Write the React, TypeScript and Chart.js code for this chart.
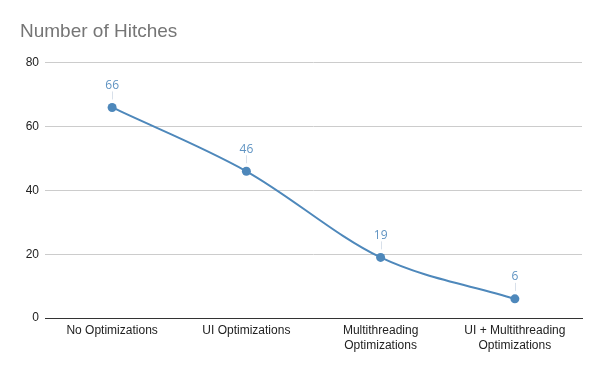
import React, { useEffect, useRef } from "react";
import { Chart, registerables } from "chart.js";

Chart.register(...registerables);

const categories: (string | string[])[] = [
  "No Optimizations",
  "UI Optimizations",
  ["Multithreading", "Optimizations"],
  ["UI + Multithreading", "Optimizations"],
];
const hitches = [66, 46, 19, 6];
const yTicks = [0, 20, 40, 60, 80];

const LINE = "#4e88bb";
const LABEL = "#5f93c2";
const FONT = "'Liberation Sans', Arial, sans-serif";

const labelPlugin = {
  id: "valueLabels",
  afterDatasetsDraw(chart: any) {
    const ctx = chart.ctx;
    const meta = chart.getDatasetMeta(0);
    ctx.save();
    ctx.font = "12px 'Open Sans'";
    ctx.textAlign = "center";
    ctx.textBaseline = "middle";
    meta.data.forEach((pt: any, i: number) => {
      const x = pt.x;
      const y = pt.y;
      ctx.strokeStyle = "#d8e0ea";
      ctx.lineWidth = 1;
      ctx.beginPath();
      ctx.moveTo(Math.round(x) + 0.5, y - 8);
      ctx.lineTo(Math.round(x) + 0.5, y - 16);
      ctx.stroke();
      ctx.fillStyle = LABEL;
      ctx.fillText(String(hitches[i]), x, y - 22);
    });
    ctx.restore();
  },
};

export default function App() {
  const ref = useRef<HTMLCanvasElement>(null);
  useEffect(() => {
    document.body.style.margin = "0";
    const chart = new Chart(ref.current!, {
      type: "line",
      data: {
        labels: categories,
        datasets: [
          {
            data: hitches,
            borderColor: LINE,
            backgroundColor: LINE,
            borderWidth: 2,
            pointRadius: 4.5,
            pointBackgroundColor: LINE,
            pointBorderWidth: 0,
            cubicInterpolationMode: "monotone",
          },
        ],
      },
      options: {
        animation: false,
        responsive: false,
        devicePixelRatio: 1,
        layout: { padding: { left: 20, right: 18, top: 0, bottom: 13 } },
        plugins: {
          legend: { display: false },
          tooltip: { enabled: false },
          title: {
            display: true,
            text: "Number of Hitches",
            align: "start",
            color: "#757575",
            font: { family: FONT, size: 19, weight: "normal", lineHeight: 1.2 },
            padding: { top: 20, bottom: 20 },
          },
        },
        scales: {
          x: {
            offset: true,
            grid: { display: false, drawTicks: false, tickLength: 0 },
            border: { color: "#333333", width: 1 },
            ticks: {
              color: "#222222",
              font: { family: FONT, size: 12, lineHeight: 1.25 },
              maxRotation: 0,
              autoSkip: false,
              padding: 5,
            },
          },
          y: {
            min: 0,
            max: 80,
            afterBuildTicks: (axis: any) => {
              axis.ticks = yTicks.map((v) => ({ value: v }));
            },
            afterFit: (axis: any) => {
              axis.width = 25;
            },
            grid: { color: "#cccccc", drawTicks: false },
            border: { display: false },
            ticks: {
              color: "#222222",
              font: { family: FONT, size: 12 },
              padding: 6,
            },
          },
        },
      },
      plugins: [labelPlugin],
    });
    return () => chart.destroy();
  }, []);
  return <canvas ref={ref} width={600} height={371} style={{ display: "block" }} />;
}
